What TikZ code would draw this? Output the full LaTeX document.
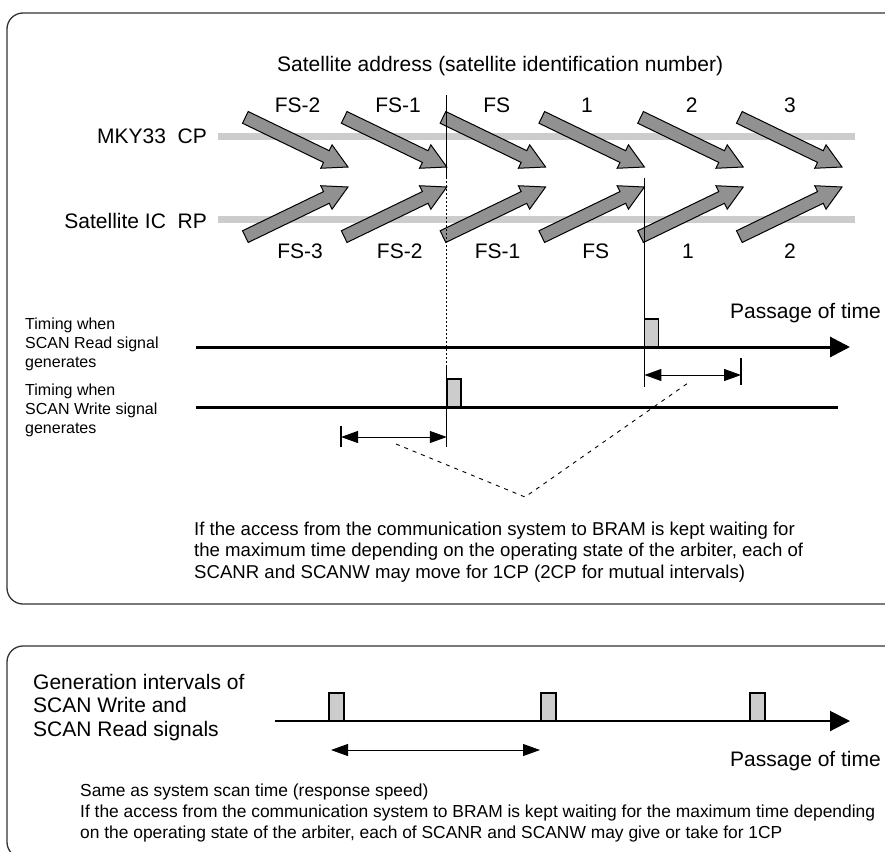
\documentclass[tikz,border=0pt]{standalone}
\usepackage{fontspec}
\setmainfont{Liberation Sans}
\usetikzlibrary{arrows.meta}
\newcommand\fatarrow[3]{%
  \begin{scope}[shift={(#1,#2)},rotate=#3]
    \filldraw[fatbody] (-114,-6.5) -- (-24,-6.5) -- (-24,-13) -- (0,0) -- (-24,13) -- (-24,6.5) -- (-114,6.5) -- cycle;
  \end{scope}}
\begin{document}
\begin{tikzpicture}[x=1pt,y=-1pt,
  frame/.style={draw=black!80, line width=1.3pt, rounded corners=16pt},
  band/.style={draw=black!20, line width=7pt},
  fatbody/.style={fill=black!43, draw=black, line width=1pt, line join=miter},
  pulse/.style={fill=black!20, draw=black, line width=1.8pt},
  tline/.style={line width=3pt},
  tarrow/.style={-{Triangle[length=20pt,width=20pt]}},
  span/.style={line width=1pt, {Triangle[length=17pt,width=12pt]}-{Triangle[length=17pt,width=12pt]}},
  tick/.style={line width=1.2pt},
  dotline/.style={line width=0.9pt, dash pattern=on 2pt off 2pt},
  dashline/.style={line width=0.9pt, dash pattern=on 4pt off 5pt},
  big/.style={font=\fontsize{21}{25}\selectfont, inner sep=0pt},
  small/.style={font=\fontsize{16}{19}\selectfont, inner sep=0pt, align=left},
  note/.style={font=\fontsize{18.6}{21.5}\selectfont, inner sep=0pt, align=left},
  note2/.style={font=\fontsize{17.4}{21}\selectfont, inner sep=0pt, align=left},
  gen/.style={font=\fontsize{21}{23.5}\selectfont, inner sep=0pt, align=left}]
\useasboundingbox (0,0) rectangle (885,851);
\clip (0,0) rectangle (885,851);
\fill[white] (0,0) rectangle (885,851);

% frames
\draw[frame] (7,13) rectangle (905,604);
\draw[frame] (7,646) rectangle (905,858);

% title and labels
\node[big, anchor=base west] (title) at (277,71.5) {Satellite address (satellite identification number)};
\node[big, anchor=base east] (cp) at (207,143.5) {MKY33\ \ CP};
\node[big, anchor=base east] (rp) at (207,228) {Satellite IC\ \ RP};

% bands
\coordinate (cpA) at (218,136);  \coordinate (cpB) at (855,136);
\coordinate (rpA) at (218,219.5); \coordinate (rpB) at (855,219.5);
\draw[band] (cpA) -- (cpB);
\draw[band] (rpA) -- (rpB);

% fat arrows
\foreach \i in {0,...,5} {
  \fatarrow{{348+98.8*\i}}{167}{-25.8}
  \fatarrow{{348+98.8*\i}}{187}{25.8}
}

% top / bottom labels
\node[big, anchor=base] (t1) at (297.5,112) {FS-2};
\node[big, anchor=base] (t2) at (398,112) {FS-1};
\node[big, anchor=base] (t3) at (496.7,112) {FS};
\node[big, anchor=base] (t4) at (587,112) {1};
\node[big, anchor=base] (t5) at (691.7,112) {2};
\node[big, anchor=base] (t6) at (790,112) {3};
\node[big, anchor=base] (b1) at (300,258) {FS-3};
\node[big, anchor=base] (b2) at (399.7,258) {FS-2};
\node[big, anchor=base] (b3) at (497.5,258) {FS-1};
\node[big, anchor=base] (b4) at (595.8,258) {FS};
\node[big, anchor=base] (b5) at (688,258) {1};
\node[big, anchor=base] (b6) at (790,258) {2};

% timelines
\node[small, anchor=base west] (rdlab) at (25,367) {Timing when\\SCAN Read signal\\generates};
\node[small, anchor=base west] (wrlab) at (25,433) {Timing when\\SCAN Write signal\\generates};
\node[big, anchor=base east] (pass1) at (881,318) {Passage of time};

\coordinate (rdS) at (196,347); \coordinate (rdE) at (850,347);
\coordinate (wrS) at (196,407); \coordinate (wrE) at (838,407);
\draw[tline, tarrow] (rdS) -- (rdE);
\draw[tline] (wrS) -- (wrE);

% vertical markers
\coordinate (v1a) at (446.8,95);  \coordinate (v1b) at (446.8,177);
\coordinate (v1c) at (446.8,365); \coordinate (v1d) at (446.8,447);
\draw[line width=1pt] (v1a) -- (v1b);
\draw[dotline] (v1b) -- (v1c);
\draw[line width=1pt] (v1c) -- (v1d);
\coordinate (v2a) at (644.4,178); \coordinate (v2b) at (644.4,387);
\draw[line width=1pt] (v2a) -- (v2b);

% pulses
\draw[pulse] (644.4,347) rectangle (658.4,319);
\draw[pulse] (446.8,407) rectangle (460.8,379);

% spans
\coordinate (rsA) at (644.4,375); \coordinate (rsB) at (741,375);
\draw[span] (rsA) -- (rsB);
\draw[tick] (741,358) -- (741,385);
\coordinate (wsA) at (341,437); \coordinate (wsB) at (446.8,437);
\draw[span] (wsA) -- (wsB);
\draw[tick] (341,426) -- (341,447);

% dashed V
\coordinate (vL) at (396,444); \coordinate (vM) at (525,497); \coordinate (vR) at (688,383);
\draw[dashline] (vL) -- (vM) -- (vR);

\node[note, anchor=base west] (note1) at (194,578) {If the access from the communication system to BRAM is kept waiting for\\the maximum time depending on the operating state of the arbiter, each of\\SCANR and SCANW may move for 1CP (2CP for mutual intervals)};

% lower frame
\node[gen, anchor=base west] (genlab) at (33,736) {Generation intervals of\\SCAN Write and\\SCAN Read signals};
\coordinate (lS) at (275,721); \coordinate (lE) at (850,721);
\draw[line width=2pt, tarrow] (lS) -- (lE);
\draw[pulse] (329,721) rectangle (344,693);
\draw[pulse] (541,721) rectangle (556,693);
\draw[pulse] (750,721) rectangle (765,693);
\coordinate (lsA) at (331,750); \coordinate (lsB) at (540,750);
\draw[span] (lsA) -- (lsB);
\node[big, anchor=base east] (pass2) at (881,766) {Passage of time};
\node[note2, anchor=base west] (note2) at (80,838) {Same as system scan time (response speed)\\If the access from the communication system to BRAM is kept waiting for the maximum time depending\\on the operating state of the arbiter, each of SCANR and SCANW may give or take for 1CP};
\end{tikzpicture}
\end{document}
